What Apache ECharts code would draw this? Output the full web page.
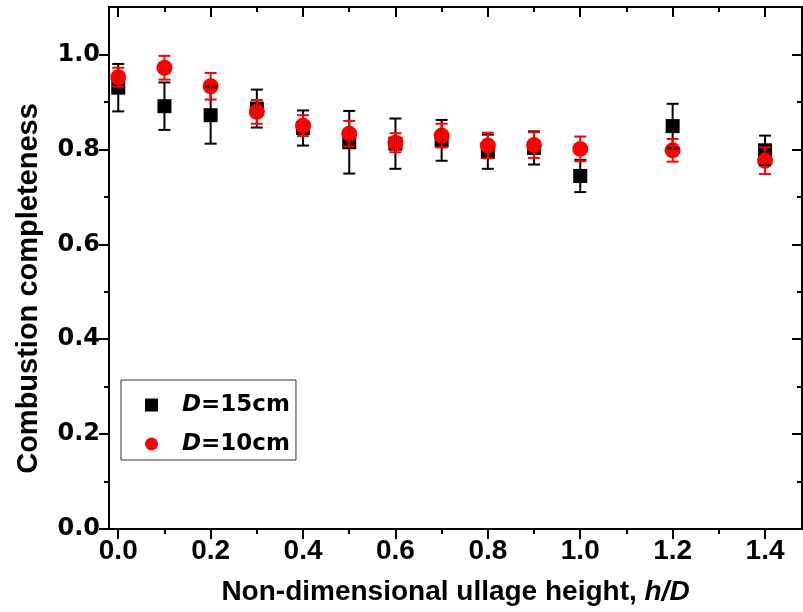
<!DOCTYPE html>
<html>
<head>
<meta charset="utf-8">
<script src="https://cdn.jsdelivr.net/npm/echarts@6/dist/echarts.min.js"></script>
<style>
html, body { margin: 0; padding: 0; background: #fff; }
#chart { width: 803px; height: 612px; }
</style>
</head>
<body>
<div id="chart"></div>
<script>
// non-dimensional ullage height h/D
var hd = [0, 0.1, 0.2, 0.3, 0.4, 0.5, 0.6, 0.7, 0.8, 0.9, 1.0, 1.2, 1.4];
// D = 15 cm
var d15 = [0.930, 0.891, 0.872, 0.886, 0.845, 0.815, 0.812, 0.819, 0.795, 0.803, 0.744, 0.849, 0.798];
var d15Err = [0.050, 0.050, 0.060, 0.040, 0.037, 0.066, 0.053, 0.043, 0.036, 0.035, 0.034, 0.047, 0.031];
// D = 10 cm
var d10 = [0.952, 0.972, 0.933, 0.879, 0.850, 0.833, 0.814, 0.829, 0.808, 0.809, 0.801, 0.798, 0.776];
var d10Err = [0.020, 0.025, 0.028, 0.025, 0.022, 0.027, 0.020, 0.025, 0.027, 0.027, 0.026, 0.024, 0.028];

var xMajor = [0, 0.2, 0.4, 0.6, 0.8, 1.0, 1.2, 1.4];
var xMinor = [0.1, 0.3, 0.5, 0.7, 0.9, 1.1, 1.3];
var yMajor = [0, 0.2, 0.4, 0.6, 0.8, 1.0];
var yMinor = [0.1, 0.3, 0.5, 0.7, 0.9];

var myChart = echarts.init(document.getElementById('chart'));

function fmt(v) { return v.toFixed(1); }

function xAxisDef(pos, ticks, len, inside, showLine) {
  return {
    type: 'value', position: pos, min: -0.02, max: 1.48,
    axisLine: { show: showLine, onZero: false, lineStyle: { color: '#000', width: 2 } },
    axisTick: { show: true, inside: inside, length: len, customValues: ticks, lineStyle: { color: '#000', width: 2 } },
    axisLabel: { show: false },
    splitLine: { show: false }
  };
}
function yAxisDef(pos, ticks, len, inside, showLine) {
  return {
    type: 'value', position: pos, min: 0, max: 1.1,
    axisLine: { show: showLine, onZero: false, lineStyle: { color: '#000', width: 2 } },
    axisTick: { show: true, inside: inside, length: len, customValues: ticks, lineStyle: { color: '#000', width: 2 } },
    axisLabel: { show: false },
    splitLine: { show: false }
  };
}

var xBottom = xAxisDef('bottom', xMajor, 10, false, true);
xBottom.axisLabel = {
  show: true, customValues: xMajor, formatter: fmt, margin: 8, lineHeight: 28,
  fontFamily: 'Liberation Sans', fontWeight: 'bold', fontSize: 28, color: '#000'
};
xBottom.name = '{n|Non-dimensional ullage height, }{i|h/D}';
xBottom.nameLocation = 'middle';
xBottom.nameGap = 46;
xBottom.nameTextStyle = {
  rich: {
    n: { fontFamily: 'Liberation Sans', fontWeight: 'bold', fontSize: 28, color: '#000', lineHeight: 34 },
    i: { fontFamily: 'Liberation Sans', fontWeight: 'bold', fontStyle: 'italic', fontSize: 28, color: '#000', lineHeight: 34 }
  }
};

var yLeft = yAxisDef('left', yMajor, 10, false, true);
yLeft.axisLabel = {
  show: true, customValues: yMajor, formatter: fmt, margin: 9,
  fontFamily: 'DejaVu Sans', fontWeight: 'bold', fontSize: 24, color: '#000'
};
yLeft.name = 'Combustion completeness';
yLeft.nameLocation = 'middle';
yLeft.nameGap = 64;
yLeft.nameTextStyle = {
  fontFamily: 'Liberation Sans', fontWeight: 'bold', fontSize: 29, color: '#000',
  lineHeight: 32, padding: [0, 41, 0, 0]
};

function errorBars(color) {
  return function (params, api) {
    var x = api.value(0);
    var lo = api.coord([x, api.value(1)]);
    var hi = api.coord([x, api.value(2)]);
    var hw = 6;
    var st = { stroke: color, lineWidth: 2 };
    return {
      type: 'group',
      children: [
        { type: 'line', shape: { x1: hi[0], y1: hi[1], x2: lo[0], y2: lo[1] }, style: st },
        { type: 'line', shape: { x1: hi[0] - hw, y1: hi[1], x2: hi[0] + hw, y2: hi[1] }, style: st },
        { type: 'line', shape: { x1: lo[0] - hw, y1: lo[1], x2: lo[0] + hw, y2: lo[1] }, style: st }
      ]
    };
  };
}

var option = {
  animation: false,
  backgroundColor: '#fff',
  grid: { left: 109, right: 1, top: 7, bottom: 83, containLabel: false },
  xAxis: [
    xBottom,
    xAxisDef('bottom', xMinor, 5, false, false),
    xAxisDef('top', xMajor, 10, true, true),
    xAxisDef('top', xMinor, 5, true, false)
  ],
  yAxis: [
    yLeft,
    yAxisDef('left', yMinor, 5, false, false),
    yAxisDef('right', yMajor, 10, true, true),
    yAxisDef('right', yMinor, 5, true, false)
  ],
  legend: {
    orient: 'vertical', left: 121, top: 380,
    padding: [12, 6, 3, 24],
    itemWidth: 13, itemHeight: 13, itemGap: 13,
    borderColor: '#333', borderWidth: 1,
    data: [{ name: 'D=15cm', icon: 'rect' }, { name: 'D=10cm', icon: 'circle' }],
    formatter: function (n) { return '{i|D}' + n.slice(1); },
    textStyle: {
      fontFamily: 'DejaVu Sans', fontWeight: 'bold', fontSize: 23, color: '#000',
      lineHeight: 26, padding: [0, 0, 0, 19],
      rich: { i: { fontFamily: 'DejaVu Sans', fontWeight: 'bold', fontStyle: 'italic', fontSize: 23, color: '#000', lineHeight: 26 } }
    }
  },
  series: [
    {
      name: 'D=15cm', type: 'scatter', symbol: 'rect', symbolSize: 14, z: 2,
      itemStyle: { color: '#000', opacity: 1 },
      data: hd.map(function (h, i) { return [h, d15[i]]; })
    },
    {
      name: 'D=10cm', type: 'scatter', symbol: 'circle', symbolSize: 16, z: 3,
      itemStyle: { color: '#ff0000', opacity: 1 },
      data: hd.map(function (h, i) { return [h, d10[i]]; })
    },
    {
      name: 'err15', type: 'custom', z: 4, renderItem: errorBars('#000'),
      encode: { x: 0, y: [1, 2] },
      data: hd.map(function (h, i) { return [h, d15[i] - d15Err[i], d15[i] + d15Err[i]]; })
    },
    {
      name: 'err10', type: 'custom', z: 5, renderItem: errorBars('#ff0000'),
      encode: { x: 0, y: [1, 2] },
      data: hd.map(function (h, i) { return [h, d10[i] - d10Err[i], d10[i] + d10Err[i]]; })
    }
  ]
};
myChart.setOption(option);
</script>
</body>
</html>
